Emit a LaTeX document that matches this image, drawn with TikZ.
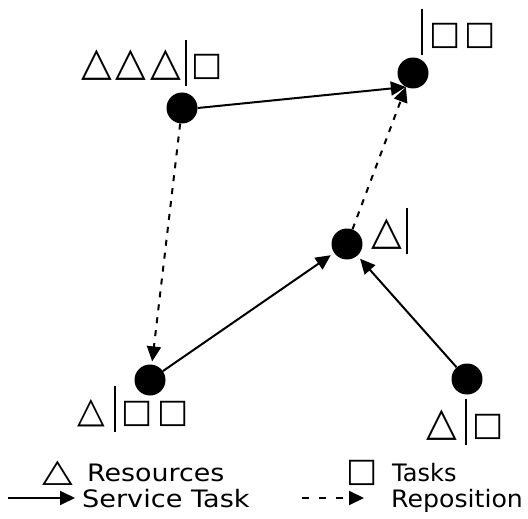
\documentclass[tikz,border=0pt]{standalone}
\usepackage{fontspec}
\setmainfont{DejaVu Sans}
\newfontfamily\symfont{DejaVu Sans}
\usetikzlibrary{arrows.meta}
\newcommand\Tri{{\symfont\fontsize{40pt}{40pt}\selectfont △}}
\newcommand\Sq{{\symfont\fontsize{33pt}{33pt}\selectfont □}}
\newcommand\Sep{\kern4pt\rule[-10pt]{2pt}{46pt}\kern4pt}
\newcommand\Gap{\kern4pt}
\begin{document}
\begin{tikzpicture}[x=1pt,y=-1pt,
  site/.style={circle,fill=black,minimum size=31pt,inner sep=0pt},
  lab/.style={inner sep=0pt,anchor=base west},
  tip/.style={-{Triangle[length=15pt,width=14pt]}},
  service/.style={line width=2pt,tip},
  repos/.style={line width=2pt,dash pattern=on 6pt off 7pt,tip},
  legrepos/.style={line width=2pt,dash pattern=on 7pt off 10pt,tip},
  legtext/.style={inner sep=0pt,anchor=base west,font=\fontsize{24pt}{24pt}\selectfont}]
\useasboundingbox (0,0) rectangle (528,519);
% sites
\node[site] (A) at (182,108) {};
\node[site] (B) at (413,73) {};
\node[site] (C) at (347,244) {};
\node[site] (D) at (150,380) {};
\node[site] (E) at (467,379) {};
% resource | task labels
\node[lab] (la) at (81,76) {\Tri\Gap\Tri\Gap\Tri\Sep\Sq};
\node[lab] (lb) at (417,45) {\Sep\kern2pt\Sq\kern4pt\Sq};
\node[lab] (lc) at (371,244) {\Tri\Sep};
\node[lab] (ld) at (77,422) {\scalebox{0.9}{\Tri}\kern5pt\Sep\kern2pt\Sq\kern4pt\Sq};
\node[lab] (le) at (426,435) {\Tri\kern4pt\Sep\kern2pt\Sq};
% moves
\draw[service] (A.east) -- (B.243);
\draw[repos] (C) -- (B.243);
\draw[repos,shorten >=3pt] (A) -- (D);
\draw[service,shorten >=4pt] (D) -- (C);
\draw[service,shorten >=4pt] (E) -- (C);
% legend
\node[lab] (kt) at (42,481) {\scalebox{1}[0.8]{\Tri}};
\node[legtext] (kr) at (87,481) {\scalebox{1.12}[1]{Resources}};
\node[lab] (ks) at (346,481) {\Sq};
\node[legtext] (kk) at (392,481) {Tasks};
\coordinate (s0) at (8,498);
\coordinate (s1) at (75,498);
\draw[service] (s0) -- (s1);
\node[legtext] (kv) at (82,507) {\scalebox{1.13}[1]{Service Task}};
\coordinate (r0) at (302,498);
\coordinate (r1) at (364,498);
\draw[legrepos] (r0) -- (r1);
\node[legtext] (kp) at (391,507) {\scalebox{1.05}[1]{Reposition}};
\end{tikzpicture}
\end{document}
